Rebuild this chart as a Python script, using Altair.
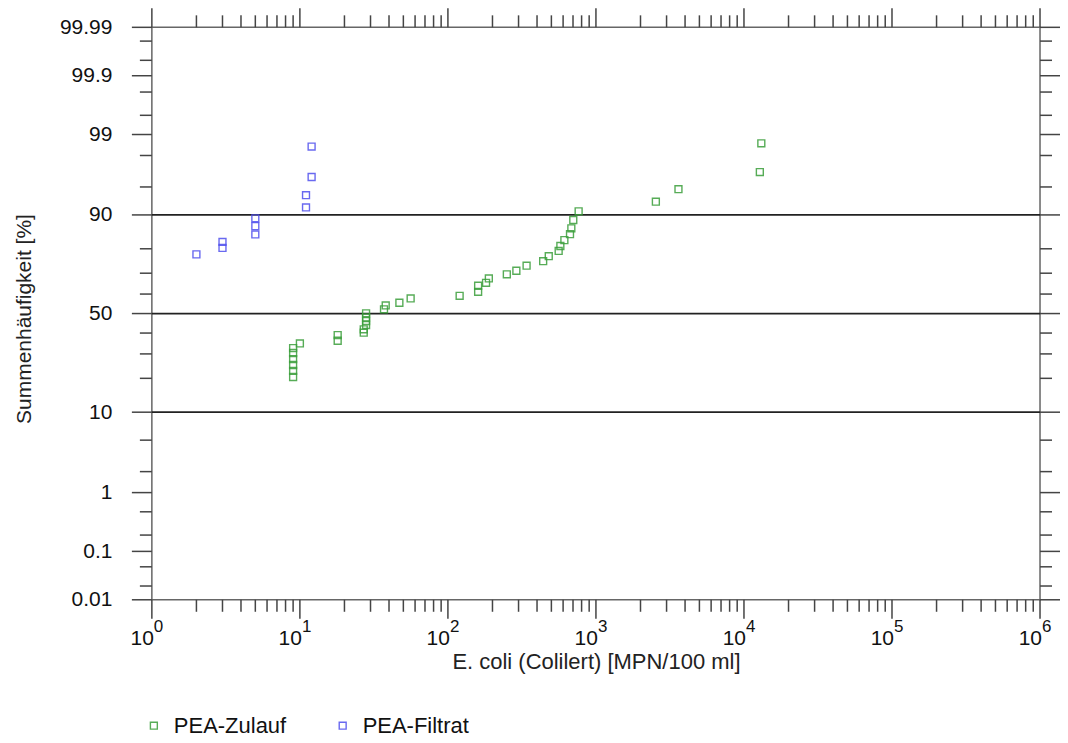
import altair as alt
import pandas as pd
from statistics import NormalDist

nd = NormalDist()

# ---------------- data ----------------
series_names = ["PEA-Zulauf", "PEA-Filtrat"]
series_colors = ["#3a9e3a", "#5050ee"]

zul_x = [9, 9, 9, 9, 9, 9, 10, 18, 18, 27, 27, 28, 28, 28, 28, 37, 38, 47, 56,
         120, 160, 160, 181, 189, 250, 290, 340, 440, 480, 560, 575, 612, 668,
         682, 703, 764, 2540, 3610, 12800, 13100]
zul_p = [20.5, 22.8, 25.2, 27.7, 30.4, 32.7, 34.9, 36.2, 39.0, 40.2, 41.9, 44.1,
         46.1, 48.0, 50.1, 52.2, 54.2, 55.6, 57.8, 59.1, 61.1, 64.1, 65.5, 67.6,
         69.5, 71.1, 73.3, 75.2, 77.2, 79.2, 81.0, 83.0, 84.9, 86.6, 88.8, 90.8,
         92.7, 94.7, 96.7, 98.65]

fil_x = [2, 3, 3, 5, 5, 5, 11, 11, 12, 12]
fil_p = [77.9, 80.3, 82.4, 84.8, 87.2, 89.2, 91.6, 93.8, 96.2, 98.5]

# probability axis ticks (percent)
y_major = [0.01, 0.1, 1, 10, 50, 90, 99, 99.9, 99.99]
y_minor = [0.02, 0.05, 0.2, 0.5, 2, 5, 20, 30, 40, 60, 70, 80, 95, 98,
           99.5, 99.8, 99.95, 99.98]
y_grid = [10, 50, 90]

# log axis ticks
x_decades = [1, 10, 100, 1000, 10000, 100000, 1000000]
x_exponents = ["0", "1", "2", "3", "4", "5", "6"]
x_minor_mult = [2, 3, 4, 5, 6, 7, 8, 9]
x_minor = [m * d for d in x_decades[:-1] for m in x_minor_mult]

# ---------------- layout ----------------
W, H = 889, 573
FONT = "Liberation Sans"
TICK_COL = "#444444"
MAJ, MIN = 19, 12

zmin, zmax = nd.inv_cdf(0.0001), nd.inv_cdf(0.9999)
yscale = alt.Scale(domain=[zmin, zmax], nice=False, zero=False)
xscale = alt.Scale(type="log", domain=[1, 1000000], nice=False)

df = pd.DataFrame({
    "x": zul_x + fil_x,
    "p": zul_p + fil_p,
    "series": [series_names[0]] * len(zul_x) + [series_names[1]] * len(fil_x),
})

zcalc = "quantileNormal(datum.p / 100)"

yaxis = alt.Axis(
    values=[nd.inv_cdf(p / 100) for p in y_major],
    labelExpr="format(cumulativeNormal(datum.value) * 100, '.4~g')",
    ticks=False, tickSize=0, domain=False, grid=False,
    labelPadding=40, labelFontSize=21, labelFont=FONT, labelColor="#111111",
    labelFlush=False, labelOverlap=False, labelBaseline="middle",
    title="Summenhäufigkeit [%]", titleFont=FONT, titleFontSize=21,
    titleFontWeight="normal", titleColor="#222222",
    titleX=-127, titleY=H / 2 + 5, titleBaseline="middle",
)
xaxis = alt.Axis(
    labels=False, ticks=False, domain=False, grid=False,
    title="E. coli (Colilert) [MPN/100 ml]", titleFont=FONT, titleFontSize=22,
    titleFontWeight="normal", titleColor="#222222",
    titleY=62, titleBaseline="middle",
)

points = alt.Chart(df).transform_calculate(z=zcalc).mark_point(
    shape="square", filled=False, size=48, strokeWidth=1.4, opacity=0.85
).encode(
    x=alt.X("x:Q", scale=xscale, axis=xaxis),
    y=alt.Y("z:Q", scale=yscale, axis=yaxis),
    color=alt.Color(
        "series:N",
        scale=alt.Scale(domain=series_names, range=series_colors),
        legend=alt.Legend(
            orient="none", legendX=-9, legendY=688, direction="horizontal",
            title=None, symbolType="square", symbolSize=48,
            symbolStrokeWidth=1.4, labelFontSize=22, labelFont=FONT,
            labelColor="#111111", columnPadding=45, labelOffset=9,
        ),
    ),
)

grid = alt.Chart(pd.DataFrame({"p": y_grid})).transform_calculate(z=zcalc).mark_rule(
    color="#222222", strokeWidth=1.8
).encode(y=alt.Y("z:Q", scale=yscale, axis=yaxis))


def yticks(vals, x0, x1):
    return alt.Chart(pd.DataFrame({"p": vals})).transform_calculate(z=zcalc).mark_rule(
        color=TICK_COL, strokeWidth=1.5
    ).encode(
        y=alt.Y("z:Q", scale=yscale, axis=yaxis),
        x=alt.value(x0), x2=alt.value(x1),
    )


def xticks(vals, y0, y1):
    return alt.Chart(pd.DataFrame({"x": vals})).mark_rule(
        color=TICK_COL, strokeWidth=1.5
    ).encode(
        x=alt.X("x:Q", scale=xscale, axis=xaxis),
        y=alt.value(y0), y2=alt.value(y1),
    )


tick_layers = [
    yticks(y_major, -MAJ - 1, 0), yticks(y_minor, -MIN, 0),
    yticks(y_major, W, W + MAJ + 1), yticks(y_minor, W, W + MIN),
    xticks(x_decades, -MAJ, 0), xticks(x_minor, -MIN, 0),
    xticks(x_decades, H, H + MAJ), xticks(x_minor, H, H + MIN),
]

lab_df = pd.DataFrame({"x": x_decades, "e": x_exponents})
lab_base = alt.Chart(lab_df).mark_text(
    font=FONT, fontSize=21, align="right", baseline="alphabetic", dx=2, color="#111111"
).encode(
    x=alt.X("x:Q", scale=xscale, axis=xaxis), y=alt.value(H + 45), text=alt.value("10")
)
lab_sup = alt.Chart(lab_df).mark_text(
    font=FONT, fontSize=17, align="left", baseline="alphabetic", dx=2, color="#111111"
).encode(
    x=alt.X("x:Q", scale=xscale, axis=xaxis), y=alt.value(H + 32), text="e:N"
)

chart = alt.layer(grid, *tick_layers, points, lab_base, lab_sup).properties(
    width=W, height=H,
    autosize=alt.AutoSizeParams(type="none"),
    padding={"left": 144, "top": 19, "right": 20, "bottom": 138},
).configure(font=FONT).configure_view(stroke="#666666", strokeWidth=1.5)

chart.save("out.html", embed_options={"renderer": "svg", "actions": False})
